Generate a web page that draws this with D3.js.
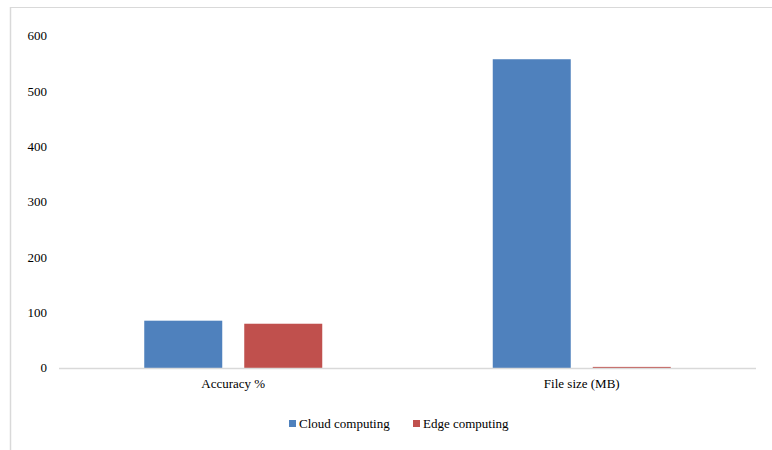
<!DOCTYPE html>
<html><head><meta charset="utf-8">
<script src="https://cdn.jsdelivr.net/npm/d3@7"></script>
<style>html,body{margin:0;padding:0;background:#fff;}svg{display:block;}
svg text{font-family:"Liberation Serif", Tinos, "DejaVu Serif", serif !important;}</style>
</head><body>
<svg id="chart" width="772" height="450"></svg>
<script>
const categories = ["Accuracy %", "File size (MB)"];
const seriesNames = ["Cloud computing", "Edge computing"];
const cloudValues = [85.5, 558];
const edgeValues = [80, 2];
const yTicks = [0, 100, 200, 300, 400, 500, 600];
const colors = ["#4F81BD", "#C0504D"];

(function () {
const svg = d3.select("#chart");
const W = 772, H = 450;

// frame lines
svg.append("line").attr("x1", 10).attr("x2", W).attr("y1", 7.5).attr("y2", 7.5).attr("stroke", "#d9d9d9").attr("stroke-width", 1);
svg.append("line").attr("x1", 10.5).attr("x2", 10.5).attr("y1", 7).attr("y2", H).attr("stroke", "#d9d9d9").attr("stroke-width", 1.5);

const pLeft = 59, pRight = 756, pTop = 36, pBottom = 368;
const x0 = d3.scaleBand().domain(categories).range([pLeft, pRight]).paddingInner(0).paddingOuter(0);
const y = d3.scaleLinear().domain([0, 600]).range([pBottom, pTop]);

const data = categories.map((c, i) => ({cat: c, vals: [cloudValues[i], edgeValues[i]]}));
const barW = 78, gap = 22;

// y tick labels
const yAxis = d3.axisLeft(y).tickValues(yTicks).tickSize(0).tickPadding(0);
const ya = svg.append("g").attr("transform", `translate(47,0)`).call(yAxis);
ya.attr("font-family", null).attr("font-size", null);
ya.select(".domain").remove();
ya.selectAll("text").style("font-size", "13px").attr("fill", "#000").attr("dy", "0.3em");

// bars
const g = svg.append("g");
data.forEach(d => {
  const cx = x0(d.cat) + x0.bandwidth() / 2;
  d.vals.forEach((v, j) => {
    const xs = j === 0 ? cx - gap / 2 - barW : cx + gap / 2;
    g.append("rect")
      .attr("x", xs).attr("width", barW)
      .attr("y", y(v)).attr("height", y(0) - y(v))
      .attr("fill", colors[j]);
  });
});

// baseline
svg.append("line").attr("x1", pLeft).attr("x2", pRight).attr("y1", pBottom + 0.5).attr("y2", pBottom + 0.5).attr("stroke", "#d9d9d9").attr("stroke-width", 1.5);

// category labels
const xAxis = d3.axisBottom(x0).tickSize(0).tickPadding(0);
const xa = svg.append("g").attr("transform", `translate(0,${pBottom})`).call(xAxis);
xa.attr("font-family", null).attr("font-size", null);
xa.select(".domain").remove();
xa.selectAll("text").style("font-size", "13px").attr("fill", "#000").attr("dy", null).attr("y", 20);

// legend
const legendItems = [{x: 289, name: seriesNames[0], c: colors[0]}, {x: 413, name: seriesNames[1], c: colors[1]}];
legendItems.forEach(it => {
  svg.append("rect").attr("x", it.x).attr("y", 420).attr("width", 7).attr("height", 7).attr("fill", it.c);
  svg.append("text").attr("x", it.x + 10).attr("y", 428).style("font-size", "13px").attr("fill", "#000").text(it.name);
});
})();
</script>
</body></html>
